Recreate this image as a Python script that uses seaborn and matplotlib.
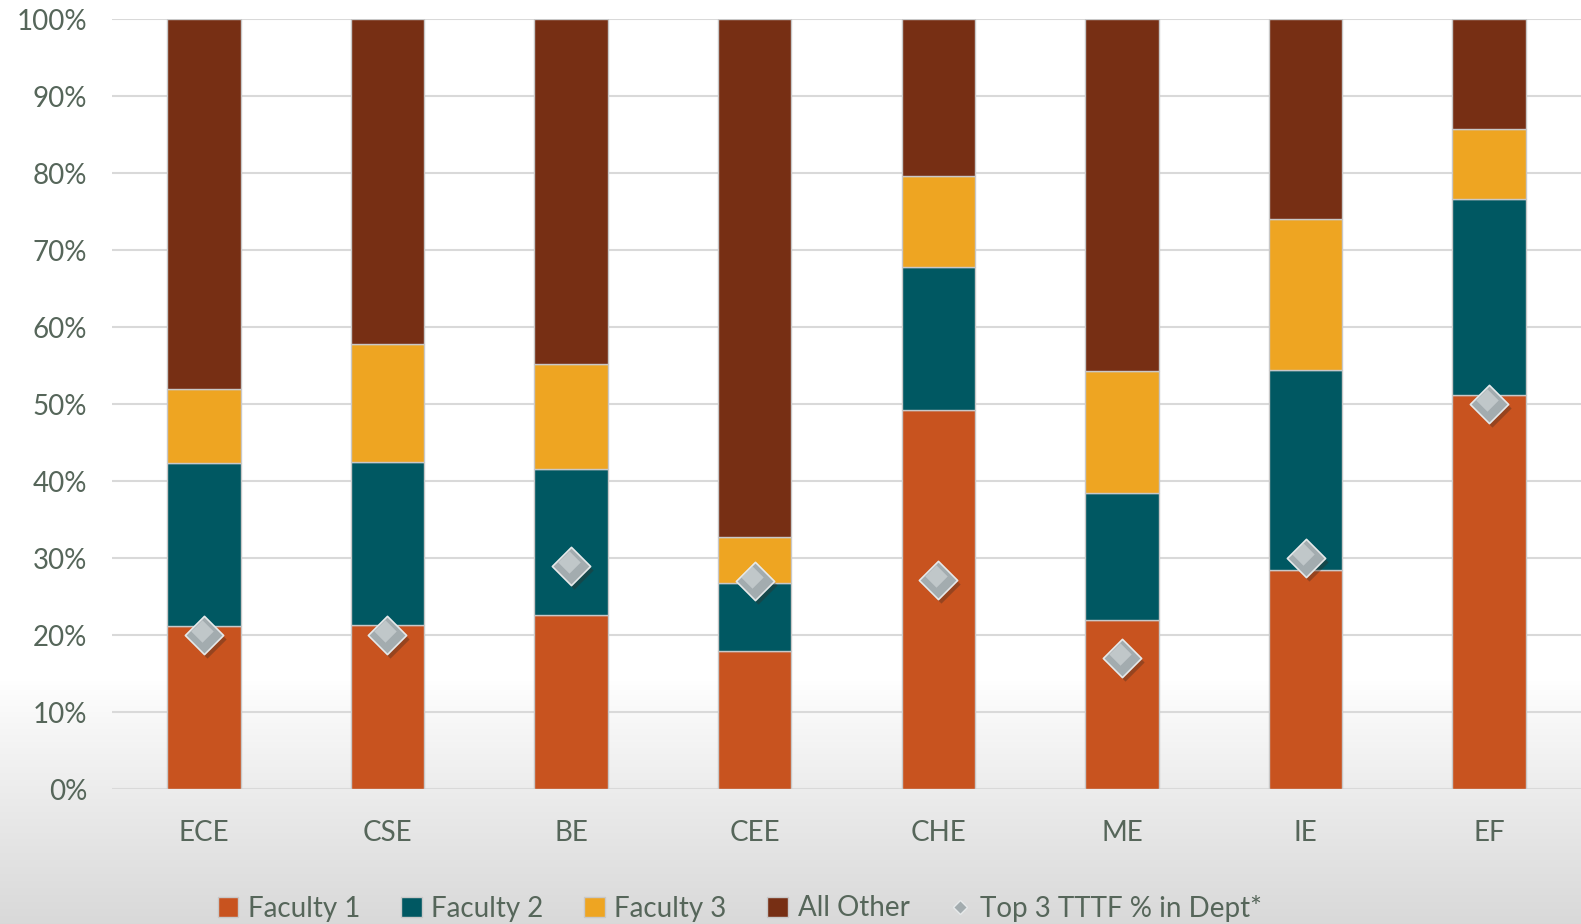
import numpy as np
import matplotlib
matplotlib.use("Agg")
import matplotlib.pyplot as plt
import matplotlib.transforms as mtransforms
from matplotlib.lines import Line2D
from matplotlib.patches import Patch
import seaborn as sns

departments = ["ECE", "CSE", "BE", "CEE", "CHE", "ME", "IE", "EF"]
faculty1 = [21.2, 21.3, 22.6, 17.9, 49.3, 21.9, 28.4, 51.2]
faculty2 = [21.1, 21.2, 19.0, 8.8, 18.5, 16.5, 26.1, 25.4]
faculty3 = [9.7, 15.3, 13.6, 6.0, 11.8, 15.9, 19.6, 9.1]
all_other = [100 - a - b - c for a, b, c in zip(faculty1, faculty2, faculty3)]
top3_tttf = [20, 20, 29, 27, 27.2, 17, 30, 50]
yticks = [0, 10, 20, 30, 40, 50, 60, 70, 80, 90, 100]
ytick_labels = [f"{v}%" for v in yticks]

colors = {"Faculty 1": "#C8531F", "Faculty 2": "#005862",
          "Faculty 3": "#EEA522", "All Other": "#772F14"}
text_color = "#56665A"

sns.set_style("white")
plt.rcParams["font.family"] = ["Lato", "DejaVu Sans"]

fig = plt.figure(figsize=(15.81, 9.24), dpi=100)

# background gradient
bg = fig.add_axes([0, 0, 1, 1], zorder=0)
H = 924
grad = np.ones((H, 1))
start = 680
for i in range(H):
    if i > start:
        t = (i - start) / (H - start)
        grad[i, 0] = 1 - 0.15 * t ** 0.9
g = np.dstack([grad, grad, grad])
bg.imshow(g, aspect="auto", extent=[0, 1, 0, 1], origin="upper")
bg.axis("off")

ax = fig.add_axes([112 / 1581, 1 - 789 / 924, 1 - 112 / 1581, (789 - 19.3) / 924], zorder=1)
ax.patch.set_alpha(0)

bottoms = np.zeros(len(departments))
for name, vals in [("Faculty 1", faculty1), ("Faculty 2", faculty2),
                   ("Faculty 3", faculty3), ("All Other", all_other)]:
    sns.barplot(x=departments, y=vals, bottom=bottoms, color=colors[name],
                width=0.4, edgecolor="#C8C8C8", linewidth=1.0, ax=ax,
                saturation=1, zorder=3)
    bottoms = bottoms + np.array(vals)

# diamond markers with shadow
shadow = mtransforms.offset_copy(ax.transData, fig=fig, x=3, y=-4, units="dots")
ax.scatter(range(len(departments)), top3_tttf, marker="D", s=380,
           color="#3a2a20", alpha=0.35, transform=shadow, zorder=4, linewidths=0)
sns.scatterplot(x=list(range(len(departments))), y=top3_tttf, marker="D", s=380,
                color="#A3ACAF", edgecolor="#E6E9EA", linewidth=1.2, ax=ax, zorder=5)
ax.scatter(np.arange(len(departments)) - 0.012, np.array(top3_tttf) + 0.5, marker="D", s=130,
           color="#D5DADC", alpha=0.6, zorder=6, linewidths=0)

ax.set_xlim(-0.5, 7.5)
ax.set_ylim(0, 100)
ax.set_yticks(yticks)
ax.set_yticklabels(ytick_labels)
ax.grid(axis="y", color="#D9D9D9", linewidth=1.5, zorder=0)
ax.set_axisbelow(True)
for s in ax.spines.values():
    s.set_visible(False)
ax.tick_params(axis="y", length=0, pad=18, labelsize=20, labelcolor=text_color)
ax.tick_params(axis="x", length=0, pad=22, labelsize=20, labelcolor=text_color)
ax.set_xlabel("")
ax.set_ylabel("")

handles = [Patch(facecolor=colors[k], edgecolor="#C8C8C8", label=k)
           for k in ["Faculty 1", "Faculty 2", "Faculty 3", "All Other"]]
handles.append(Line2D([], [], marker="D", color="none", markerfacecolor="#A3ACAF",
                      markeredgecolor="#E6E9EA", markersize=7, label="Top 3 TTTF % in Dept*"))
fig.legend(handles=handles, loc="center", bbox_to_anchor=(0.468, 1 - 908 / 924),
           ncol=5, frameon=False, fontsize=20, labelcolor=text_color,
           handlelength=0.75, handleheight=0.75, handletextpad=0.35, columnspacing=1.45)

fig.savefig("out.png", dpi=100)
